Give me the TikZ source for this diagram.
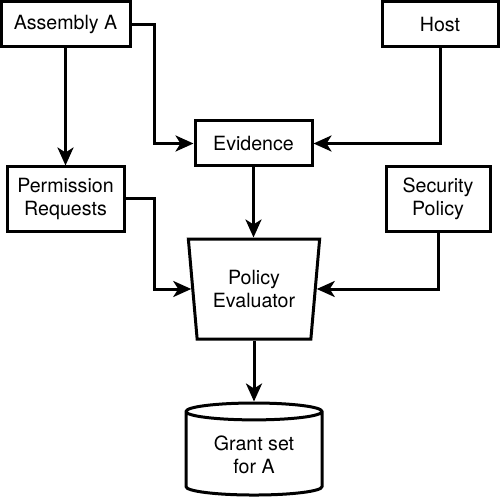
\documentclass[tikz,border=0pt]{standalone}
\usepackage{fontspec}
\setmainfont{TeX Gyre Heros}
\usepackage{tikz}
\usetikzlibrary{calc,positioning,arrows.meta,shapes.geometric}

\begin{document}
\begin{tikzpicture}[
    x=1pt, y=-1pt,
    font=\fontsize{19.6}{23.5}\selectfont,
    line width=3pt,
    >={Stealth[length=18pt, width=16pt, inset=5pt]},
    blk/.style={draw=black, rectangle, align=center, inner sep=2pt},
    evl/.style={draw=black, trapezium, shape border rotate=180,
                trapezium left angle=81, trapezium right angle=81,
                trapezium stretches=true, align=center,
                minimum width=132pt, minimum height=100pt, inner sep=2pt},
    store/.style={draw=black, cylinder, shape border rotate=90, aspect=0.2,
                  align=center, minimum width=136pt, minimum height=92pt,
                  inner sep=2pt}
  ]
    \useasboundingbox (0,0) rectangle (500,502);

    \node[blk, minimum width=129pt, minimum height=45pt] (asm) at (65.5,24.5) {Assembly A};
    \node[blk, minimum width=116pt, minimum height=45pt] (host) at (440,24.5) {Host};
    \node[blk, minimum width=117pt, minimum height=45pt] (evid) at (253.5,143.5) {Evidence};
    \node[blk, minimum width=117pt, minimum height=64pt] (perm) at (65.5,199) {Permission\\Requests};
    \node[blk, minimum width=104pt, minimum height=64pt] (secpol) at (438,199) {Security\\Policy};
    \node[evl] (eval) at (254,289) {Policy\\Evaluator};
    \node[store] (grant) at (254,455) {Grant set\\for A};
    \coordinate (jog) at (154,0);

    \draw[->] (asm.east) -- (asm.east -| jog) |- (evid.west);
    \draw[->] (host.south) |- (evid.east);
    \draw[->] (asm.south) -- (perm.north);
    \draw[->] (perm.east) -- (perm.east -| jog) |- (eval);
    \draw[->] (secpol.south) |- (eval);
    \draw[->] (evid.south) -- (evid.south |- eval.north);
    \draw[->] (eval.south) -- (eval.south |- grant.north);
  \end{tikzpicture}
\end{document}
